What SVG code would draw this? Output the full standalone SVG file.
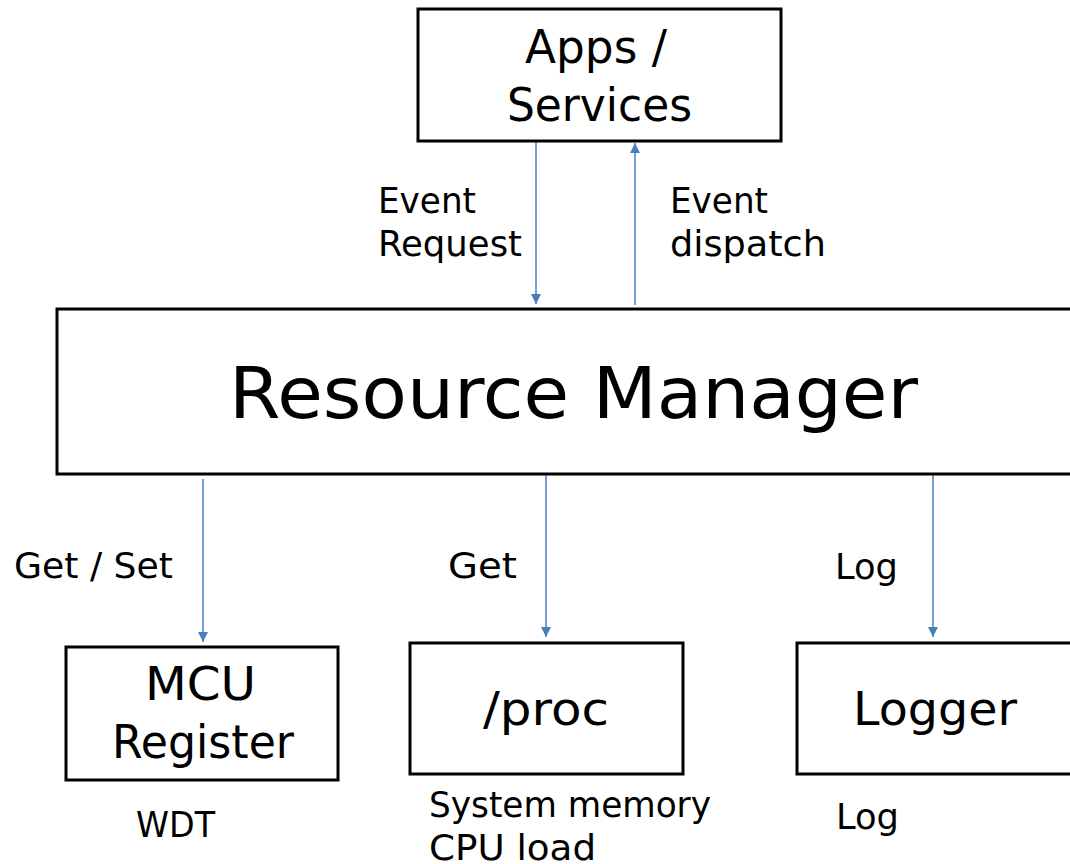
<svg xmlns="http://www.w3.org/2000/svg" width="1070" height="864" viewBox="0 0 1070 864">
  <style>
    .box { fill: #ffffff; stroke: #000000; stroke-width: 3; }
    .t { font-family: "DejaVu Sans", "Liberation Sans", sans-serif; fill: #000000; }
    .big { font-size: 46px; }
    .huge { font-size: 72px; }
    .lbl { font-size: 35px; }
    .wire { stroke: #4a7ebb; stroke-width: 1.5; fill: none; marker-end: url(#head); }
  </style>
  <defs>
    <marker id="head" viewBox="0 0 10 12" refX="10" refY="6" markerWidth="10" markerHeight="12" markerUnits="userSpaceOnUse" orient="auto">
      <path d="M0,1 L10,6 L0,11 Z" fill="#4a7ebb"/>
    </marker>
  </defs>
  <rect width="1070" height="864" fill="#ffffff"/>

  <g id="connectors">
    <line class="wire" x1="536" y1="142" x2="536" y2="304"/>
    <line class="wire" x1="635" y1="305" x2="635" y2="143"/>
    <line class="wire" x1="203" y1="479" x2="203" y2="642"/>
    <line class="wire" x1="546" y1="475" x2="546" y2="637"/>
    <line class="wire" x1="933" y1="475" x2="933" y2="637"/>
    <text class="t lbl" x="378" y="213" textLength="98" lengthAdjust="spacingAndGlyphs">Event</text>
    <text class="t lbl" x="378" y="256" textLength="144" lengthAdjust="spacingAndGlyphs">Request</text>
    <text class="t lbl" x="670" y="213" textLength="98" lengthAdjust="spacingAndGlyphs">Event</text>
    <text class="t lbl" x="670" y="256" textLength="156" lengthAdjust="spacingAndGlyphs">dispatch</text>
    <text class="t lbl" x="14" y="578" textLength="159" lengthAdjust="spacingAndGlyphs">Get / Set</text>
    <text class="t lbl" x="448" y="578" textLength="69" lengthAdjust="spacingAndGlyphs">Get</text>
    <text class="t lbl" x="835" y="579" textLength="63" lengthAdjust="spacingAndGlyphs">Log</text>
  </g>

  <g id="apps-services">
    <rect class="box" x="418" y="9" width="363" height="132"/>
    <text class="t big" x="525" y="63" textLength="142" lengthAdjust="spacingAndGlyphs">Apps /</text>
    <text class="t big" x="507" y="121" textLength="185" lengthAdjust="spacingAndGlyphs">Services</text>
  </g>

  <g id="resource-manager">
    <rect class="box" x="57" y="309" width="1020" height="165"/>
    <text class="t huge" x="229" y="418" textLength="689" lengthAdjust="spacingAndGlyphs">Resource Manager</text>
  </g>

  <g id="mcu-register">
    <rect class="box" x="66" y="647" width="272" height="133"/>
    <text class="t big" x="145" y="700" textLength="111" lengthAdjust="spacingAndGlyphs">MCU</text>
    <text class="t big" x="112" y="758" textLength="182" lengthAdjust="spacingAndGlyphs">Register</text>
    <text class="t lbl" x="136" y="837" textLength="79" lengthAdjust="spacingAndGlyphs">WDT</text>
  </g>

  <g id="proc">
    <rect class="box" x="410" y="643" width="273" height="131"/>
    <text class="t big" x="483" y="725" textLength="126" lengthAdjust="spacingAndGlyphs">/proc</text>
    <text class="t lbl" x="429" y="817" textLength="282" lengthAdjust="spacingAndGlyphs">System memory</text>
    <text class="t lbl" x="429" y="860" textLength="167" lengthAdjust="spacingAndGlyphs">CPU load</text>
  </g>

  <g id="logger">
    <rect class="box" x="797" y="643" width="280" height="131"/>
    <text class="t big" x="853" y="725" textLength="164" lengthAdjust="spacingAndGlyphs">Logger</text>
    <text class="t lbl" x="836" y="829" textLength="63" lengthAdjust="spacingAndGlyphs">Log</text>
  </g>
</svg>
